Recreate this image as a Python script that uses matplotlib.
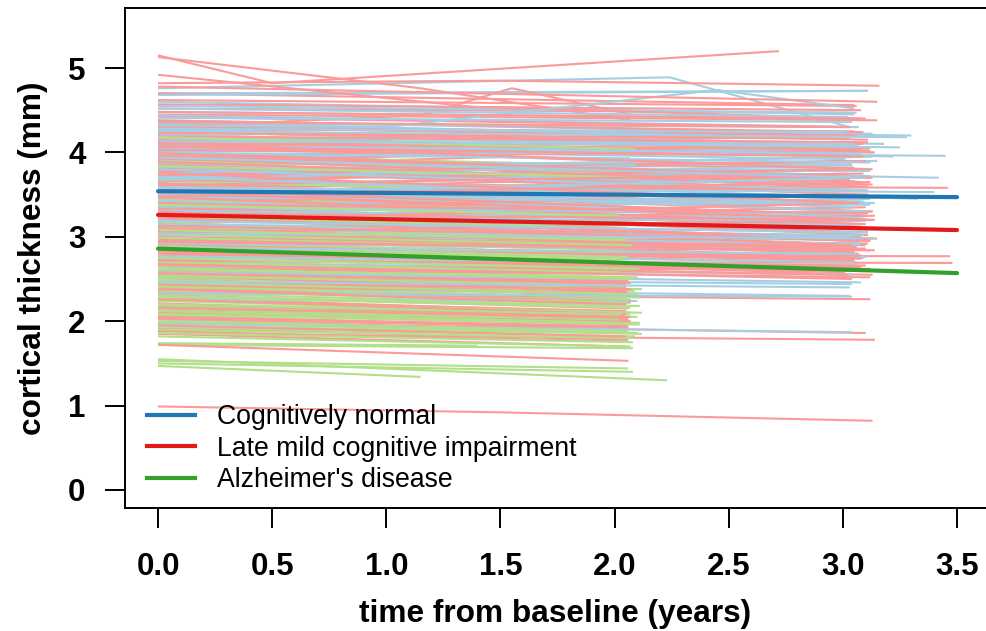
import matplotlib
matplotlib.use("Agg")
import matplotlib.pyplot as plt
from matplotlib.lines import Line2D

# ---------------- data ----------------
# Cognitively normal: baseline thickness, last-visit thickness, follow-up (years)
cn_start = [3.62, 4.12, 2.95, 3.81, 3.44, 4.31, 3.18, 3.70, 2.62, 3.95,
            4.48, 3.33, 3.86, 2.81, 3.57, 4.05, 3.25, 3.74, 4.22, 2.40,
            3.49, 3.91, 3.06, 4.38, 3.66, 2.90, 3.53, 4.17, 3.38, 3.79,
            4.60, 3.12, 3.97, 2.70, 3.59, 4.27, 3.29, 3.84, 2.51, 4.02,
            3.46, 4.70, 3.21, 3.68, 4.09, 2.98, 3.55, 3.89, 2.25, 4.34,
            3.41, 3.77, 3.02, 4.15, 3.63, 2.84, 4.44, 3.35, 3.93, 3.15,
            4.55, 3.51, 3.72, 2.66, 4.07, 3.27, 3.83, 1.97, 4.20, 3.47,
            3.09, 3.99, 3.60, 2.77, 4.52, 3.31, 3.75, 2.92, 4.25, 3.43,
            3.88, 3.23, 4.36, 2.58, 3.67, 4.00, 3.36, 2.33, 3.80, 4.13,
            3.50, 3.04, 4.28, 3.71, 2.87, 3.58, 4.41, 3.19, 3.94, 2.47]
cn_end = [3.55, 4.02, 2.84, 3.78, 3.15, 4.20, 3.12, 3.90, 2.50, 3.70,
          4.40, 3.28, 3.70, 2.70, 3.80, 3.92, 2.98, 3.66, 3.95, 2.30,
          3.25, 3.84, 2.96, 4.22, 3.85, 2.78, 3.47, 4.12, 3.05, 3.80,
          4.45, 3.02, 3.72, 2.62, 3.80, 4.10, 3.25, 3.55, 2.44, 3.96,
          3.70, 4.73, 3.14, 3.40, 4.00, 2.90, 3.25, 3.86, 2.24, 4.30,
          3.38, 3.95, 2.92, 4.06, 3.35, 2.76, 4.30, 3.30, 4.05, 3.06,
          4.47, 3.42, 3.45, 2.55, 3.99, 3.45, 3.60, 1.87, 4.08, 3.40,
          3.00, 3.93, 3.30, 2.66, 4.42, 3.22, 3.95, 2.85, 4.18, 3.15,
          3.60, 3.19, 4.16, 2.46, 3.85, 3.88, 3.27, 2.29, 3.55, 4.10,
          3.70, 2.98, 4.24, 3.40, 2.80, 3.53, 4.36, 3.05, 3.70, 2.40]
cn_years = [3.05, 3.10, 3.02, 3.12, 3.08, 3.30, 3.04, 3.15, 2.05, 3.07,
            3.03, 3.11, 3.42, 3.06, 3.09, 3.01, 3.14, 3.05, 3.22, 3.03,
            3.10, 2.08, 3.06, 3.13, 3.04, 3.08, 3.36, 3.02, 3.11, 3.07,
            3.05, 3.09, 3.12, 2.06, 3.03, 3.18, 3.06, 3.10, 3.04, 3.45,
            3.08, 3.11, 3.02, 3.05, 3.13, 3.07, 3.09, 3.04, 2.10, 3.06,
            3.12, 3.03, 3.08, 3.25, 3.05, 3.10, 3.07, 2.04, 3.02, 3.11,
            3.06, 3.09, 3.33, 3.04, 3.08, 3.12, 3.03, 3.04, 3.07, 3.10,
            3.05, 2.07, 3.11, 3.06, 3.02, 3.09, 3.13, 3.04, 3.28, 3.07,
            3.05, 3.10, 3.03, 3.08, 2.09, 3.12, 3.06, 3.04, 3.11, 3.05,
            3.07, 3.09, 3.02, 3.14, 3.06, 3.40, 3.04, 3.08, 3.10, 3.03]

# Late mild cognitive impairment
lmci_start = [3.45, 2.62, 4.05, 3.12, 2.28, 3.78, 2.95, 4.52, 3.31, 2.71,
              3.88, 2.15, 3.56, 4.21, 2.84, 3.02, 1.92, 3.67, 2.47, 4.33,
              3.24, 2.58, 3.95, 2.99, 3.51, 2.07, 4.12, 3.18, 2.76, 3.71,
              4.62, 2.36, 3.38, 2.89, 3.83, 1.85, 3.14, 4.01, 2.53, 3.47,
              2.68, 4.27, 3.06, 3.62, 2.21, 3.92, 2.93, 3.29, 4.45, 2.41,
              3.55, 2.80, 3.98, 2.11, 3.35, 4.16, 2.64, 3.09, 3.74, 1.85,
              4.38, 2.97, 3.42, 2.50, 3.81, 3.20, 2.73, 4.08, 2.31, 3.60,
              3.03, 4.70, 2.87, 3.49, 2.18, 3.90, 2.61, 3.27, 4.24, 1.99,
              3.69, 2.44, 3.16, 3.86, 2.78, 4.03, 2.25, 3.40, 2.92, 4.57,
              3.22, 2.56, 3.77, 2.03, 3.58, 4.14, 2.83, 3.11, 2.39, 3.96,
              2.66, 4.31, 3.33, 1.88, 3.64, 2.98, 4.10, 2.49, 3.52, 3.00,
              4.42, 2.12, 3.26, 2.75, 3.85, 2.34, 3.44, 4.19, 2.59, 3.07,
              3.73, 2.88, 4.00, 2.20, 3.36, 2.69, 4.29, 3.13, 1.72, 3.57,
              2.96, 3.80, 2.42, 4.48, 3.19, 2.54, 3.93, 2.82, 3.47, 2.05,
              4.07, 3.30, 2.63, 3.66, 2.26, 3.04, 4.36, 2.90, 3.53, 2.46,
              3.89, 2.72, 3.23, 4.78, 2.16, 3.61, 2.94, 3.99, 2.38, 3.39,
              2.81, 4.23, 3.10, 2.57, 3.76, 1.95, 3.48, 4.11, 2.67, 3.28]
lmci_end = [3.12, 2.50, 4.20, 2.80, 2.10, 3.70, 2.98, 4.47, 3.22, 2.69,
            3.82, 2.02, 3.20, 3.95, 2.70, 3.20, 1.78, 3.55, 2.30, 4.20,
            2.90, 2.48, 4.10, 2.84, 3.70, 1.90, 4.02, 3.15, 2.58, 3.40,
            4.55, 2.25, 3.02, 2.79, 3.95, 1.78, 3.00, 3.70, 2.40, 3.42,
            2.55, 4.25, 2.75, 3.58, 2.02, 4.05, 2.86, 2.95, 4.38, 2.28,
            3.75, 2.62, 3.65, 2.00, 3.05, 4.05, 2.58, 3.25, 3.68, 1.70,
            4.24, 2.88, 3.10, 2.35, 3.55, 3.35, 2.65, 3.80, 2.15, 3.46,
            2.92, 4.56, 2.55, 3.20, 2.06, 4.05, 2.45, 3.45, 4.10, 1.86,
            3.35, 2.38, 3.30, 3.55, 2.77, 3.96, 2.12, 3.60, 2.76, 4.50,
            2.95, 2.42, 3.90, 1.92, 3.30, 4.00, 2.74, 2.98, 2.22, 3.70,
            2.60, 4.15, 3.50, 1.76, 3.30, 2.90, 4.04, 2.32, 3.20, 2.85,
            4.30, 1.98, 2.98, 2.60, 3.50, 2.26, 3.62, 4.12, 2.44, 2.80,
            3.90, 2.72, 3.70, 2.05, 3.05, 2.55, 4.20, 2.96, 1.53, 3.25,
            2.82, 3.50, 2.34, 4.40, 3.40, 2.36, 3.62, 2.77, 3.15, 1.94,
            3.95, 2.95, 2.52, 3.80, 2.08, 3.20, 4.30, 2.74, 3.20, 2.38,
            3.60, 2.66, 2.90, 4.60, 2.04, 3.75, 2.84, 3.70, 2.20, 3.28,
            2.64, 4.16, 2.85, 2.46, 3.40, 1.82, 3.65, 3.80, 2.50, 3.20]
lmci_years = [3.08, 2.05, 3.12, 3.04, 2.06, 3.10, 3.15, 3.02, 3.06, 3.48,
              3.05, 2.04, 3.11, 3.07, 3.02, 3.13, 2.06, 3.09, 2.08, 3.04,
              3.10, 2.06, 3.03, 3.14, 3.07, 2.05, 3.12, 3.05, 3.01, 3.09,
              3.06, 2.07, 3.11, 3.03, 1.55, 3.14, 3.08, 3.12, 2.05, 3.02,
              3.13, 3.05, 3.09, 3.46, 2.06, 3.04, 3.10, 3.07, 3.15, 2.04,
              3.02, 3.12, 3.08, 2.07, 3.05, 3.11, 2.06, 3.14, 3.03, 2.05,
              3.09, 3.06, 3.12, 2.05, 3.04, 3.10, 3.07, 3.13, 2.06, 3.01,
              3.11, 3.05, 3.03, 3.08, 2.04, 3.12, 2.07, 3.06, 3.09, 3.10,
              3.04, 2.06, 3.13, 3.07, 3.47, 3.02, 2.05, 3.11, 3.06, 3.08,
              3.12, 2.05, 3.03, 2.06, 3.09, 3.14, 3.05, 3.10, 2.07, 3.04,
              3.07, 3.11, 3.06, 2.05, 3.13, 3.02, 3.08, 2.06, 3.10, 3.05,
              3.03, 2.04, 3.09, 3.12, 3.06, 3.12, 3.04, 3.11, 2.05, 3.07,
              3.10, 3.05, 3.13, 2.07, 3.08, 3.02, 3.06, 3.12, 2.06, 3.09,
              3.05, 3.11, 2.06, 3.08, 3.04, 2.05, 3.13, 3.07, 3.10, 2.06,
              3.09, 3.04, 3.12, 3.06, 2.05, 3.11, 3.03, 3.08, 3.14, 2.07,
              3.06, 3.10, 3.04, 3.15, 2.06, 3.09, 3.12, 3.05, 2.05, 3.11,
              3.08, 3.03, 3.10, 2.06, 3.07, 2.05, 3.12, 3.09, 3.04, 3.06]

# Alzheimer's disease
ad_start = [2.62, 3.05, 2.21, 2.88, 1.95, 3.34, 2.47, 2.74, 4.25, 2.10,
            3.15, 2.55, 1.74, 2.96, 2.33, 3.62, 2.68, 2.02, 3.22, 2.81,
            2.44, 3.48, 1.53, 2.91, 2.16, 3.80, 2.59, 3.09, 2.27, 2.71,
            3.98, 2.06, 2.85, 1.50, 3.27, 2.39, 2.65, 4.10, 1.90, 3.00,
            2.52, 3.41, 2.13, 2.78, 1.47, 3.70, 2.30, 2.93, 2.57, 3.18,
            1.98, 2.84, 3.55, 2.24, 2.66, 1.72, 3.12, 2.49, 3.90, 2.08,
            2.76, 3.30, 2.18, 2.99, 1.86, 2.61, 3.44, 2.36, 4.18, 2.70,
            2.41, 3.03, 1.55, 2.86, 2.00, 3.66, 2.54, 2.29, 3.24, 1.93,
            2.89, 3.84, 2.12, 2.63, 3.38, 2.46, 1.82, 3.08, 2.75, 2.20]
ad_end = [2.50, 2.75, 2.08, 2.70, 1.85, 3.40, 2.30, 2.66, 4.10, 1.98,
          3.00, 2.40, 1.71, 2.84, 2.20, 3.35, 2.58, 1.88, 3.30, 2.64,
          2.32, 3.20, 1.44, 2.80, 2.00, 3.66, 2.45, 3.15, 2.15, 2.60,
          3.84, 1.92, 2.70, 1.40, 2.95, 2.26, 2.52, 3.96, 1.80, 2.70,
          2.38, 3.45, 2.02, 2.64, 1.34, 3.55, 2.18, 2.80, 2.45, 2.90,
          1.86, 2.70, 3.42, 2.10, 2.55, 1.68, 2.98, 2.36, 3.78, 1.96,
          2.62, 3.18, 2.05, 2.86, 1.75, 2.50, 3.30, 2.22, 4.04, 2.58,
          2.28, 2.90, 1.30, 2.74, 1.88, 3.52, 2.42, 2.16, 3.10, 1.82,
          2.76, 3.70, 1.98, 2.50, 3.25, 2.32, 1.70, 2.96, 2.62, 2.08]
ad_years = [2.05, 2.10, 2.07, 2.03, 2.12, 2.06, 2.09, 1.52, 2.04, 2.11,
            2.08, 2.02, 1.40, 2.13, 2.05, 2.07, 2.10, 2.04, 2.06, 2.09,
            2.03, 2.11, 2.06, 2.08, 2.04, 2.10, 2.02, 2.12, 1.05, 2.07,
            2.09, 2.05, 2.11, 2.08, 2.03, 2.06, 2.10, 1.55, 2.07, 2.04,
            2.12, 2.06, 2.02, 2.09, 1.15, 2.05, 2.11, 2.07, 2.03, 2.08,
            2.10, 2.04, 2.06, 2.12, 1.50, 2.08, 2.05, 2.09, 2.02, 2.11,
            2.07, 2.03, 2.10, 2.05, 2.08, 2.12, 2.04, 2.06, 2.09, 2.02,
            2.11, 2.08, 2.23, 2.04, 2.06, 2.10, 2.03, 2.07, 2.05, 2.09,
            2.06, 2.12, 2.04, 2.08, 2.02, 2.10, 2.07, 2.05, 2.11, 2.03]

# subjects with several distinct visits (time, thickness)
cn_multi_t = [[0, 2.24, 3.03], [0, 3.11], [0, 1.0, 2.45, 3.05]]
cn_multi_v = [[4.76, 4.89, 4.30], [4.68, 4.73], [4.32, 4.30, 4.74, 4.52]]
lmci_multi_t = [[0, 0.5, 2.72], [0, 1.15, 2.07], [0, 1.5, 3.16],
                [0, 1.15, 1.55, 2.07], [0, 1.38, 3.10], [0, 1.5, 3.13]]
lmci_multi_v = [[5.15, 4.82, 5.20], [5.13, 4.76, 4.38], [4.82, 4.85, 4.79],
                [4.30, 4.44, 4.76, 4.45], [4.92, 4.54, 4.40], [0.99, 0.92, 0.82]]

# group-level fitted trends (value at 0 and at 3.5 years)
groups = ["Cognitively normal", "Late mild cognitive impairment", "Alzheimer's disease"]
fit_start = [3.54, 3.26, 2.86]
fit_end = [3.47, 3.08, 2.57]
fit_span = [0.0, 3.5]

light_cols = ["#A6CEE3", "#FB9A99", "#B2DF8A"]
dark_cols = ["#1F78B4", "#E31A1C", "#33A02C"]

# ---------------- figure ----------------
W, H = 987, 631
fig = plt.figure(figsize=(W / 100, H / 100), dpi=100)
# axes box: left 125px, top 8px, bottom 508px, right just past the image edge
ax = fig.add_axes([125 / W, 1 - 508 / H, 864 / W, 500 / H])
ax.set_xlim(-0.1446, 3.640)
ax.set_ylim(-0.2133, 5.711)

# individual trajectories, groups interleaved in drawing order
tracks = []
for g, (s, e, yrs) in enumerate([(cn_start, cn_end, cn_years),
                                 (lmci_start, lmci_end, lmci_years),
                                 (ad_start, ad_end, ad_years)]):
    n = len(s)
    for i in range(n):
        tracks.append(((i + 0.5) / n, g, [0.0, yrs[i]], [s[i], e[i]]))
for g, (tt, vv) in [(0, (cn_multi_t, cn_multi_v)), (1, (lmci_multi_t, lmci_multi_v))]:
    n = len(tt)
    for i in range(n):
        tracks.append(((i + 0.3) / n, g, tt[i], vv[i]))
tracks.sort(key=lambda r: (r[0], r[1]))
for _, g, tx, vy in tracks:
    ax.plot(tx, vy, color=light_cols[g], lw=1.5, solid_capstyle="butt", zorder=2)

for g in range(3):
    ax.plot(fit_span, [fit_start[g], fit_end[g]], color=dark_cols[g], lw=3.0,
            solid_capstyle="round", zorder=5)

# axes styling
for sp in ax.spines.values():
    sp.set_linewidth(1.4)
    sp.set_color("black")
ax.set_xticks([0.0, 0.5, 1.0, 1.5, 2.0, 2.5, 3.0, 3.5])
ax.set_xticklabels(["0.0", "0.5", "1.0", "1.5", "2.0", "2.5", "3.0", "3.5"])
ax.set_yticks([0, 1, 2, 3, 4, 5])
ax.set_yticklabels(["0", "1", "2", "3", "4", "5"])
ax.tick_params(axis="both", direction="out", length=14.4, width=1.4, color="black")
ax.tick_params(axis="y", pad=14)
ax.tick_params(axis="x", pad=17)
for lab in ax.get_xticklabels() + ax.get_yticklabels():
    lab.set_fontfamily("Liberation Sans")
    lab.set_fontweight("bold")
    lab.set_fontsize(22.5)

fig.text(555 / W, 1 - 614 / H, "time from baseline (years)", ha="center", va="center",
         fontsize=22.8, fontweight="bold", family="Liberation Sans")
fig.text(33 / W, 1 - 258 / H, "cortical thickness (mm)", ha="center", va="center",
         rotation=90, fontsize=22.8, fontweight="bold", family="Liberation Sans")

handles = [Line2D([0], [0], color=c, lw=3.0) for c in dark_cols]
leg = ax.legend(handles, groups, loc="upper left",
                bbox_to_anchor=((147 - 125) / 864, (508 - 404) / 500),
                frameon=False, borderpad=0, borderaxespad=0,
                handlelength=1.8, handletextpad=0.83, labelspacing=0.21,
                prop={"family": "Liberation Sans", "size": 19.2})

fig.savefig("out.png", dpi=100)
